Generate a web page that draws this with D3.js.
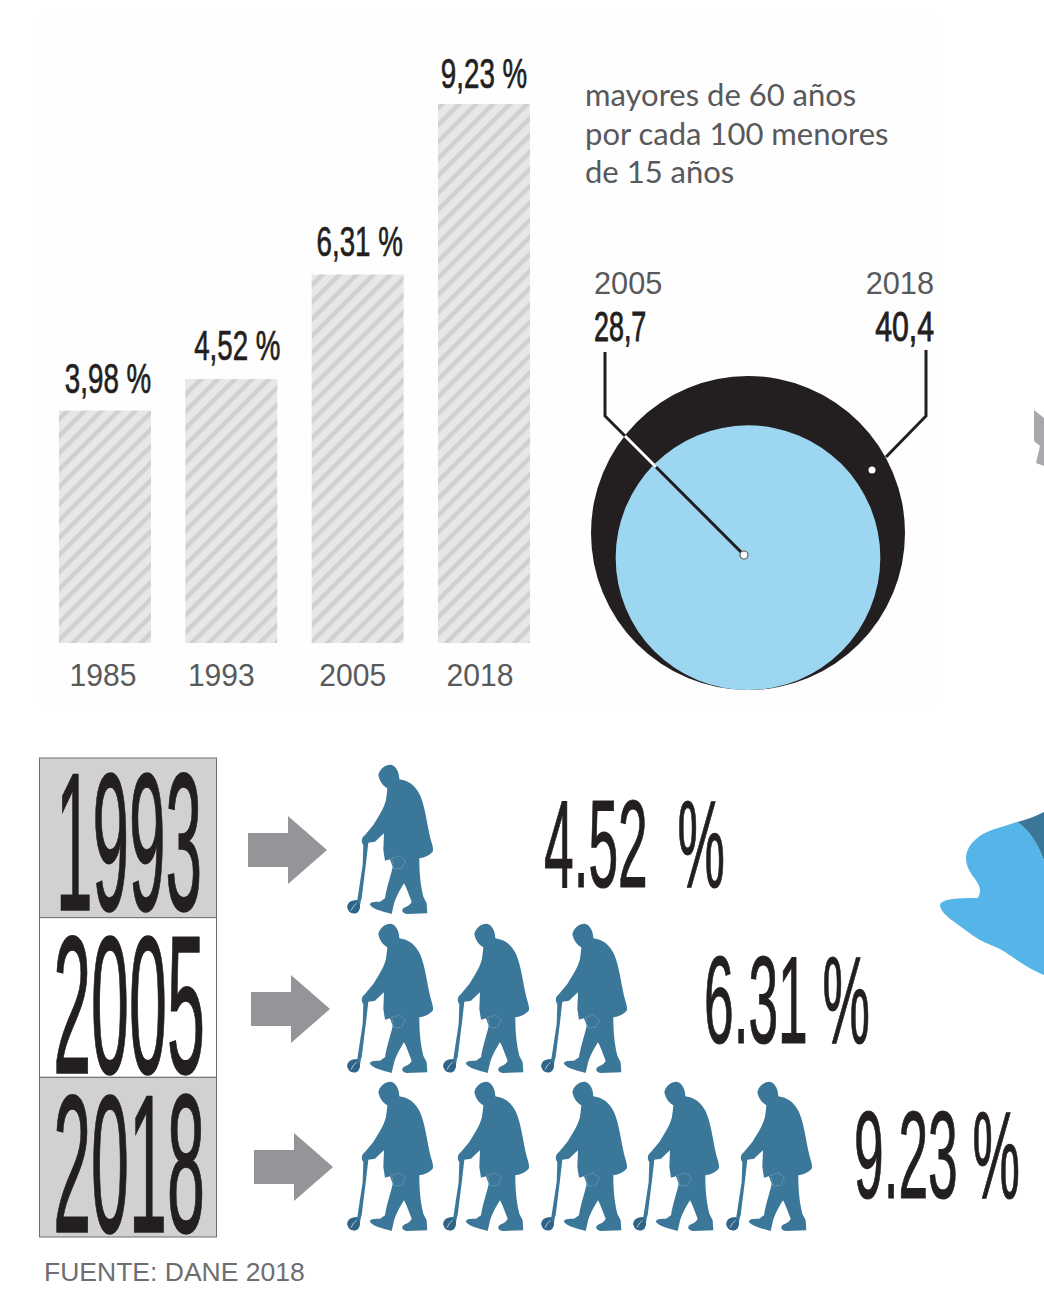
<!DOCTYPE html>
<html>
<head>
<meta charset="utf-8">
<script src="https://cdn.jsdelivr.net/npm/d3@7"></script>
<style>
html, body { margin: 0; padding: 0; background: #fff; }
svg { display: block; }
text { font-family: "Liberation Sans", sans-serif; white-space: pre; }
</style>
</head>
<body>
<svg id="chart" width="1044" height="1296"></svg>
<script>
// datos
const barYears = ["1985", "1993", "2005", "2018"]
const barValues = [3.98, 4.52, 6.31, 9.23]
const ringYears = ["2005", "2018"]
const ringValues = [28.7, 40.4]
const noteLines = ["mayores de 60 años", "por cada 100 menores", "de 15 años"]
const rowYears = ["1993", "2005", "2018"]
const rowPeople = [1, 3, 5]
const rowLabels = ["4.52  %", "6.31 %", "9.23 %"]
const source = "FUENTE: DANE 2018"

const svg = d3.select("#chart")
const baseline = 643
const coma = v => String(v).replace(".", ",")

// texto estirado: las tipografias condensadas no estan instaladas
function label(x, y, txt, size, sx, anchor, color, extra) {
	return svg.append("text")
		.attr("transform", `translate(${x},${y}) scale(${sx},1)`)
		.attr("font-size", size)
		.attr("text-anchor", anchor || "start")
		.attr("fill", color || "#231f20")
		.attr("stroke", extra ? (color || "#231f20") : "none")
		.attr("stroke-width", extra || 0)
		.text(txt)
}

// panel casi blanco del fondo
svg.append("rect").attr("x", 37).attr("y", 15).attr("width", 906).attr("height", 690)
	.attr("rx", 14).attr("fill", "#fefefe")

// recortes que asoman por la derecha
svg.append("path").attr("fill", "#a7a9ac")
	.attr("d", "M1034,410 L1044,418 L1044,466 L1036,463 L1040,446 L1034,441 Z")
svg.append("path").attr("fill", "#55b5e8")
	.attr("d", "M1017,822 C1000,828 985,830 975,840 C962,852 965,865 972,875 C980,885 982,890 978,898 C960,898 940,898 940,906 C942,915 955,922 968,932 C985,945 995,945 1005,952 C1020,962 1028,968 1044,975 L1044,860 C1038,845 1030,830 1017,822 Z")
svg.append("path").attr("fill", "#3b7799")
	.attr("d", "M1017,822 C1025,820 1032,818 1044,812 L1044,860 C1038,845 1030,830 1017,822 Z")

// barras
const defs = svg.append("defs")
const hatch = defs.append("pattern").attr("id", "rayas")
	.attr("patternUnits", "userSpaceOnUse").attr("width", 12).attr("height", 12)
	.attr("patternTransform", "rotate(45)")
hatch.append("rect").attr("width", 12).attr("height", 12).attr("fill", "#e7e7e7")
hatch.append("rect").attr("width", 4.5).attr("height", 12).attr("fill", "#d0d0d0")

const x = d3.scaleBand().domain(barYears).range([59, 530]).paddingInner(0.272)
const y = d3.scaleLinear().domain([0, 9.23]).range([baseline, 104])

svg.selectAll("rect.barra")
	.data(barValues).enter()
	.append("rect")
	.attr("class", "barra")
	.attr("x", (d, i) => x(barYears[i]))
	.attr("y", d => y(d))
	.attr("width", x.bandwidth())
	.attr("height", d => baseline - y(d))
	.attr("fill", "url(#rayas)")

const valueNudge = [3, 6, 2, 0]
const valueLift = [18, 19, 19, 16]
barValues.forEach((d, i) => {
	label(x(barYears[i]) + x.bandwidth() / 2 + valueNudge[i], y(d) - valueLift[i], coma(d) + " %", 42, 0.66, "middle", "#231f20", 0.7)
})
const yearNudge = [-2, -10, -5, -4]
barYears.forEach((d, i) => {
	label(x(d) + x.bandwidth() / 2 + yearNudge[i], 686, d, 32, 0.94, "middle", "#58595b")
})

noteLines.forEach((d, i) => {
	label(585, 106 + i * 38.5, d, 31, 1, "start", "#58595b").style("font-family", "Lato, sans-serif")
})

// circulos: area proporcional al valor
const r = d3.scaleSqrt().domain([0, 40.4]).range([0, 157])
const ringX = 748
const ringBottom = 690
svg.selectAll("circle.anillo")
	.data(ringValues.slice().reverse()).enter()
	.append("circle")
	.attr("class", "anillo")
	.attr("cx", ringX)
	.attr("cy", d => ringBottom - r(d))
	.attr("r", d => r(d))
	.attr("fill", (d, i) => i == 0 ? "#231f20" : "#9dd6f1")

const hub = [744, 555]
svg.append("path").attr("fill", "none").attr("stroke", "#231f20").attr("stroke-width", 3)
	.attr("d", `M605,352 L605,416 L${hub[0]},${hub[1]}`)
svg.append("path").attr("fill", "none").attr("stroke", "#fff").attr("stroke-width", 3)
	.attr("d", "M625,436 L656,467")
svg.append("path").attr("fill", "none").attr("stroke", "#231f20").attr("stroke-width", 3)
	.attr("d", "M926,350 L926,416 L886,457")
svg.append("circle").attr("cx", hub[0]).attr("cy", hub[1]).attr("r", 4)
	.attr("fill", "#fff").attr("stroke", "#58595b").attr("stroke-width", 1.2)
svg.append("circle").attr("cx", 872).attr("cy", 470).attr("r", 3.5).attr("fill", "#fff")

label(594, 294, ringYears[0], 32, 0.96, "start", "#58595b")
label(934, 294, ringYears[1], 32, 0.96, "end", "#58595b")
label(594, 341, coma(ringValues[0]), 42, 0.64, "start", "#231f20", 0.9)
label(934, 341, coma(ringValues[1]), 42, 0.72, "end", "#231f20", 0.9)

// filas de abajo
const rowY = d3.scaleOrdinal().domain(rowYears).range([0, 159, 317])
const boxY = d3.scaleBand().domain(rowYears).range([758, 1237])
const slot = d3.scaleOrdinal().domain([0, 1, 2, 3, 4]).range([0, 96, 194, 286, 379])
const arrowX = d3.scaleOrdinal().domain(rowYears).range([248, 251, 254])
const yearBase = d3.scaleOrdinal().domain(rowYears).range([910, 1073, 1232])
const yearWide = d3.scaleOrdinal().domain(rowYears).range([0.335, 0.348, 0.348])
const pctX = d3.scaleOrdinal().domain(rowYears).range([544, 704, 854])
const pctBase = d3.scaleOrdinal().domain(rowYears).range([887, 1043, 1198])

const person = "M115,75 C120,55 140,42 155,45 C170,50 178,70 178,88 C205,92 225,105 240,135 C255,170 260,215 270,260 C275,280 282,295 278,305 C270,315 255,322 238,325 C238,360 240,400 250,440 L260,460 L262,490 L200,492 C185,490 182,478 195,472 C205,468 212,462 215,455 C205,430 198,410 192,400 C180,420 165,445 160,470 L155,492 C130,485 100,478 90,465 C88,455 105,455 120,455 L135,445 C140,410 155,370 158,350 L150,328 L135,332 L130,300 L132,250 C120,260 112,270 105,275 L85,278 L78,340 L65,445 C60,455 62,470 55,485 C45,495 28,490 23,475 C20,460 35,448 52,450 L68,345 L70,285 C62,275 65,262 75,255 L100,225 C115,200 130,180 138,150 C140,135 142,120 142,115 C125,105 118,90 115,75 Z"

rowYears.forEach((year, i) => {
	svg.append("rect")
		.attr("x", 39.5).attr("y", boxY(year)).attr("width", 177).attr("height", boxY.bandwidth())
		.attr("fill", i == 1 ? "#fff" : "#d1d1d1")
		.attr("stroke", "#6d6e71").attr("stroke-width", 1)
	label(129, yearBase(year), year, 196, yearWide(year), "middle", "#231f20", 1.5)

	const ax = arrowX(year), ay = 850 + rowY(year)
	svg.append("path").attr("fill", "#939598")
		.attr("d", `M${ax},${ay - 17} h40 v-17 l39,34 l-39,34 v-17 h-40 Z`)

	d3.range(rowPeople[i]).forEach(k => {
		const g = svg.append("g")
			.attr("transform", `translate(${340 + slot(k)},${750 + rowY(year)}) scale(0.3333)`)
		g.append("path").attr("d", person).attr("fill", "#3b7799")
		g.append("circle").attr("cx", 41).attr("cy", 471).attr("r", 19).attr("fill", "#2f6488")
		g.append("path").attr("d", "M33,482 L41,468 L50,460").attr("fill", "none")
			.attr("stroke", "#a9c7d8").attr("stroke-width", 3)
		g.append("path").attr("d", "M155,325 L178,318 L197,333 L185,355 L162,357 Z")
			.attr("fill", "none").attr("stroke", "#8fb6cc").attr("stroke-width", 2)
			.attr("stroke-dasharray", "4 3")
	})

	label(pctX(year), pctBase(year), rowLabels[i], 124, 0.43, "start", "#231f20", 1.2)
})

label(44, 1281, source, 26, 1.02, "start", "#6d6e71")
</script>
</body>
</html>
